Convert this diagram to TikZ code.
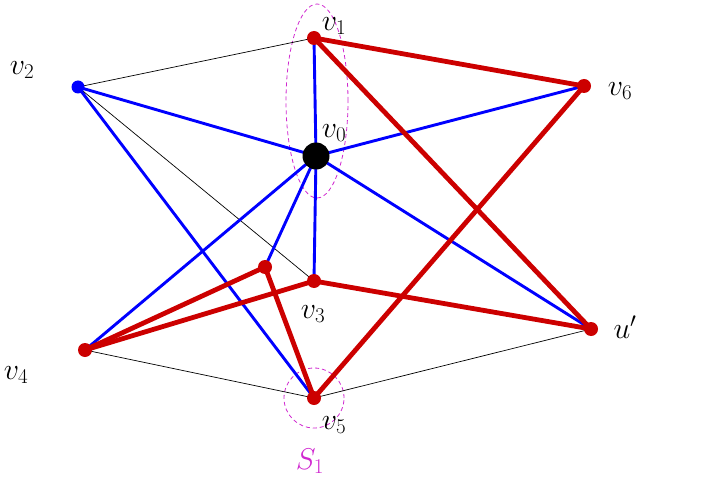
\documentclass[tikz,border=0pt]{standalone}
\usepackage{fix-cm}
\usetikzlibrary{shapes.geometric}
\definecolor{setcol}{RGB}{208,40,208}
\definecolor{redcol}{RGB}{204,0,0}
\tikzset{
  thinedge/.style={black, line width=0.7pt},
  blueedge/.style={blue, line width=2.9pt},
  rededge/.style={redcol, line width=4.8pt},
  reddot/.style={circle, fill=redcol, inner sep=0pt, minimum size=14pt},
  bluedot/.style={circle, fill=blue, inner sep=0pt, minimum size=13pt},
  bigdot/.style={circle, fill=black, inner sep=0pt, minimum size=27pt},
  lbl/.style={font=\fontsize{30}{33}\selectfont, inner sep=0pt},
  setmark/.style={setcol, line width=0.8pt, dash pattern=on 4pt off 3pt}
}
\begin{document}
\begin{tikzpicture}[x=1pt,y=-1pt]
\useasboundingbox (0,0) rectangle (708,478);
\coordinate (v1) at (314,38);
\coordinate (v0) at (316,156);
\coordinate (v2) at (78,87);
\coordinate (v6) at (584,86);
\coordinate (v3) at (314,281);
\coordinate (w) at (265,267);
\coordinate (v4) at (85,350);
\coordinate (v5) at (314,398);
\coordinate (u) at (591,329);
% set markers
\node[setmark, draw, ellipse, minimum width=62pt, minimum height=194pt, inner sep=0pt] (e1) at (317,101) {};
\node[setmark, draw, circle, minimum size=60pt, inner sep=0pt] (e2) at (314,398) {};
% thin edges
\draw[thinedge] (v2) -- (v1);
\draw[thinedge] (v2) -- (v3);
\draw[thinedge] (v4) -- (v5);
\draw[thinedge] (v5) -- (u);
% blue edges
\draw[blueedge] (v0) -- (v1);
\draw[blueedge] (v0) -- (v2);
\draw[blueedge] (v0) -- (v6);
\draw[blueedge] (v0) -- (v3);
\draw[blueedge] (v0) -- (v4);
\draw[blueedge] (v0) -- (w);
\draw[blueedge] (v0) -- (u);
\draw[blueedge] (v2) -- (v5);
% red edges
\draw[rededge] (v1) -- (v6);
\draw[rededge] (v1) -- (u);
\draw[rededge] (v6) -- (v5);
\draw[rededge] (v3) -- (u);
\draw[rededge] (v3) -- (v4);
\draw[rededge] (w) -- (v4);
\draw[rededge] (w) -- (v5);
% dots
\node[reddot] (d1) at (v1) {};
\node[bigdot] (d0) at (v0) {};
\node[bluedot] (d2) at (v2) {};
\node[reddot] (d6) at (v6) {};
\node[reddot] (d3) at (v3) {};
\node[reddot] (dw) at (w) {};
\node[reddot] (d4) at (v4) {};
\node[reddot] (d5) at (v5) {};
\node[reddot] (du) at (u) {};
% labels
\node[lbl] (l1) at (334,26) {$v_1$};
\node[lbl] (l0) at (334,133) {$v_0$};
\node[lbl] (l2) at (22,70) {$v_2$};
\node[lbl] (l6) at (620,91) {$v_6$};
\node[lbl] (l3) at (313,314) {$v_3$};
\node[lbl] (l4) at (16,375) {$v_4$};
\node[lbl] (l5) at (334,425) {$v_5$};
\node[lbl] (lu) at (625,327) {$u'$};
\node[lbl, text=setcol] (ls) at (310,461) {$S_1$};
\end{tikzpicture}
\end{document}
